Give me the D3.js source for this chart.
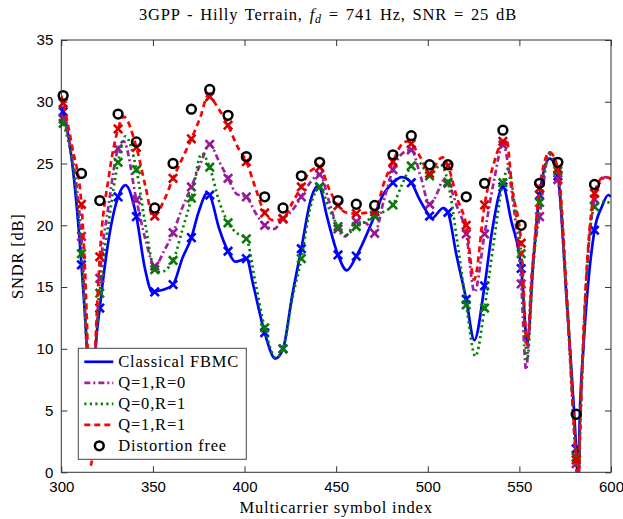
<!DOCTYPE html>
<meta charset="utf-8">
<style>
  body { margin: 0; background: white; }
  svg { background-color: white; font-family: "Liberation Serif", serif; }
  .axis text { font-size: 15px; fill: black; }
  .axis line { stroke: #333; }
  .axis path { display: none; }
  .lbl { letter-spacing: 0.8px; }
</style>
<div id="chart"></div>
<script src="https://d3js.org/d3.v7.min.js"></script>
<script>
// marker positions (symbol index) and the values read at them
var markerX = [301, 311, 321, 331, 341, 351, 361, 371, 381, 391, 401, 411, 421, 431, 441,
               451, 461, 471, 481, 491, 501, 511, 521, 531, 541, 551, 561, 571, 581, 591];

var freeMarks  = [30.5, 24.2, 22.0, 29.0, 26.75, 21.4, 25.0, 29.4, 31.0, 28.9, 25.55, 22.3, 21.4, 24.0, 25.1,
                  22.0, 21.7, 21.6, 25.7, 27.25, 24.9, 24.9, 22.3, 23.4, 27.7, 20.0, 23.4, 25.1, 4.7, 23.3];
var fbmcMarks  = [29.2, 16.8, 13.3, 22.3, 20.7, 14.6, 15.2, 19.0, 22.45, 17.9, 17.3, 11.3, 10.0, 18.1, 23.1,
                  17.6, 17.5, 20.8, 23.45, 23.45, 20.75, 21.05, 14.0, 15.1, 23.1, 16.5, 22.45, 24.0, 1.9, 19.6];
var q1r0Marks  = [28.6, 19.1, 15.7, 26.2, 22.05, 16.7, 19.4, 23.1, 26.55, 23.8, 22.3, 20.0, 20.5, 22.3, 24.1,
                  19.7, 20.3, 19.35, 24.5, 26.1, 21.7, 23.4, 19.3, 19.3, 26.5, 15.25, 20.7, 23.7, 0.7, 22.1];
var q0r1Marks  = [28.25, 17.7, 14.5, 25.1, 24.5, 16.4, 17.15, 22.2, 24.7, 20.2, 18.9, 11.7, 10.0, 17.3, 23.1,
                  19.9, 19.9, 20.75, 21.65, 24.8, 24.0, 23.5, 13.55, 13.3, 23.45, 17.7, 21.85, 24.4, 1.2, 21.5];
var q1r1Marks  = [29.9, 21.7, 17.45, 27.8, 26.3, 20.75, 23.8, 27.0, 30.4, 28.1, 25.15, 21.0, 20.55, 23.1, 24.7,
                  21.6, 20.95, 21.1, 25.15, 26.6, 24.2, 24.8, 20.0, 21.65, 26.8, 18.55, 23.0, 24.6, 1.0, 22.6];

// extra curve points between the markers [symbol, dB]
var fbmcExtra = [[300,29.6],[313.9,10.2],[316.3,2],[318.8,10.2],[326,19.0],[335,23.25],[345.5,16.6],[350,14.5],
  [356,14.8],[366,17.3],[375,21.1],[379.7,22.6],[386,19.8],[395,17.05],[405,15.0],[416.8,9.2],[426,14.3],
  [436,22.0],[440,23.2],[445,20.7],[455.8,16.35],[475,22.3],[485.8,23.9],[495.5,22.1],[502,20.55],[508.5,21.4],
  [515.5,17.7],[525.4,10.7],[535.5,19.9],[545.5,20.4],[554.4,10.45],[557.5,16.9],[566.6,25.4],[575.7,14.2],
  [582,-1],[583,4.8],[585,10.2],[595,21.5],[598.5,22.45],[600,22.3]];
var q1r0Extra = [[300,29.0],[313.8,10.2],[316.3,2.5],[318.8,10.2],[326,21.8],[334,26.8],[346,18.8],[356,17.9],
  [366,21.4],[376,25.0],[386,25.2],[396,22.5],[406,21.0],[416,19.7],[426,21.2],[436,23.5],[446,22.0],[455,19.1],
  [466,20.2],[476,22.0],[486,25.8],[496,24.0],[506,22.9],[508,23.6],[516,21.5],[525.5,14.6],[536,23.5],[546,22.5],
  [553.7,8.3],[556.5,15.6],[566.5,25.9],[576,13.5],[582,-1],[583.5,5],[585.5,12.5],[597,23.9],[600,23.7]];
var q0r1Extra = [[300,28.6],[313.8,10.2],[316.3,2],[318.8,10.2],[326,20.4],[335,27.2],[345.5,20.4],[354,16.2],
  [366,19.6],[376.6,25.8],[386,22.0],[396,19.35],[406,15.3],[417,9.3],[426,14.0],[436,21.5],[446,21.4],[455,19.2],
  [466,20.3],[476,21.1],[486,23.3],[495,25.1],[507,24.9],[516,18.8],[526,9.4],[536,18.6],[544,24.6],[548,21.0],
  [554.3,9.1],[557,15.5],[566.5,25.7],[576,13.8],[582,-1],[583.5,5],[585.5,12.5],[596,21.9],[600,21.8]];
var q1r1Extra = [[300,30.5],[306,26.3],[313.8,13],[316.3,0.6],[318.8,11],[326,24.0],[334,28.8],[346,23.1],[350,20.7],
  [356,22.0],[366,25.4],[376,28.8],[380,30.5],[386,29.4],[396,26.4],[406,23.0],[416,20.4],[426,21.8],[436,24.4],
  [446,23.0],[456,21.0],[466,21.0],[476,23.4],[486,26.6],[489,26.8],[496,25.5],[506,25.3],[508,25.5],[516,22.2],
  [525.3,15.6],[536,25.0],[543,26.9],[546,23.0],[554.3,10.3],[557,16],[566.5,25.9],[576,14],[582,-1],[583.5,5.5],
  [585.5,12.9],[596,23.9],[600,23.8]];

var xTicks = [300, 350, 400, 450, 500, 550, 600];
var yTicks = [0, 5, 10, 15, 20, 25, 30, 35];

var series = [
  {name: "Classical FBMC", marks: fbmcMarks, extra: fbmcExtra, color: "#0000ff", mcolor: "#0000ff", dash: null},
  {name: "Q=1,R=0", marks: q1r0Marks, extra: q1r0Extra, color: "#a020a0", mcolor: "#961896", dash: "6,3,2,3"},
  {name: "Q=0,R=1", marks: q0r1Marks, extra: q0r1Extra, color: "#008000", mcolor: "#0a780a", dash: "2.2,3.3"},
  {name: "Q=1,R=1", marks: q1r1Marks, extra: q1r1Extra, color: "#ff0000", mcolor: "#d40000", dash: "6,4"}
];

var W = 623, H = 519;
var margin = {top: 40, right: 12, bottom: 46.7, left: 61.3};
var width = W - margin.left - margin.right,
    height = H - margin.top - margin.bottom;

var svg = d3.select("#chart").append("svg")
    .attr("width", W).attr("height", H);

var g = svg.append("g")
    .attr("transform", "translate(" + margin.left + "," + margin.top + ")");

var x = d3.scaleLinear().domain([300, 600]).range([0, width]);
var y = d3.scaleLinear().domain([0, 35]).range([height, 0]);

g.append("clipPath").attr("id", "clip")
  .append("rect").attr("width", width).attr("height", height);

// axes, ticks pointing inwards on all four sides
g.append("g").attr("class", "axis")
  .attr("transform", "translate(0," + height + ")")
  .call(d3.axisBottom(x).tickValues(xTicks).tickSizeInner(-6).tickSizeOuter(0).tickPadding(9.5));
g.append("g").attr("class", "axis")
  .call(d3.axisTop(x).tickValues(xTicks).tickSizeInner(-6).tickSizeOuter(0).tickFormat(""));
g.append("g").attr("class", "axis")
  .call(d3.axisLeft(y).tickValues(yTicks).tickSizeInner(-6).tickSizeOuter(0).tickPadding(8));
g.append("g").attr("class", "axis")
  .attr("transform", "translate(" + width + ",0)")
  .call(d3.axisRight(y).tickValues(yTicks).tickSizeInner(-6).tickSizeOuter(0).tickFormat(""));

var line = d3.line()
    .x(function(d) { return x(d[0]); })
    .y(function(d) { return y(d[1]); })
    .curve(d3.curveMonotoneX);

function crossPath(s) {
  return "M" + (-s) + "," + (-s) + "L" + s + "," + s + "M" + (-s) + "," + s + "L" + s + "," + (-s);
}

series.forEach(function(s) {
  var pts = markerX.map(function(v, i) { return [v, s.marks[i]]; })
      .concat(s.extra)
      .sort(function(a, b) { return a[0] - b[0]; });

  g.append("path")
    .datum(pts)
    .attr("clip-path", "url(#clip)")
    .attr("fill", "none")
    .attr("stroke", s.color)
    .attr("stroke-width", 2.7)
    .attr("stroke-dasharray", s.dash)
    .attr("d", line);

  g.selectAll(null)
    .data(s.marks)
    .enter().append("path")
    .attr("transform", function(d, i) { return "translate(" + x(markerX[i]) + "," + y(d) + ")"; })
    .attr("d", crossPath(4.2))
    .attr("fill", "none")
    .attr("stroke", s.mcolor)
    .attr("stroke-width", 2.6);
});

g.selectAll(".free")
  .data(freeMarks)
  .enter().append("circle")
  .attr("class", "free")
  .attr("cx", function(d, i) { return x(markerX[i]); })
  .attr("cy", function(d) { return y(d); })
  .attr("r", 4.4)
  .attr("fill", "none")
  .attr("stroke", "black")
  .attr("stroke-width", 2.5);

// frame
g.append("rect")
  .attr("width", width).attr("height", height)
  .attr("fill", "none").attr("stroke", "#333").attr("stroke-width", 1);

// legend
var lg = svg.append("g").attr("transform", "translate(78.3,348.3)");
lg.append("rect")
  .attr("width", 168).attr("height", 111)
  .attr("fill", "white").attr("stroke", "#444").attr("stroke-width", 1);

var legendItems = series.map(function(s) { return s; })
  .concat([{name: "Distortion free", circle: true}]);

legendItems.forEach(function(s, i) {
  var ly = 13.5 + i * 21;
  if (s.circle) {
    lg.append("circle").attr("cx", 21).attr("cy", ly).attr("r", 4.4)
      .attr("fill", "none").attr("stroke", "black").attr("stroke-width", 2.5);
  } else {
    lg.append("line")
      .attr("x1", 6).attr("x2", 35).attr("y1", ly).attr("y2", ly)
      .attr("stroke", s.color).attr("stroke-width", 2.7)
      .attr("stroke-dasharray", s.dash);
  }
  lg.append("text")
    .attr("class", "lbl")
    .attr("x", 40).attr("y", ly + 5.5)
    .style("font-size", "16.5px")
    .text(s.name);
});

// title and axis labels
var title = svg.append("text")
  .attr("class", "lbl")
  .attr("x", 328).attr("y", 20)
  .attr("text-anchor", "middle")
  .style("font-size", "16.5px")
  .style("word-spacing", "2px");
title.append("tspan").text("3GPP - Hilly Terrain, ");
title.append("tspan").style("font-style", "italic").text("f");
title.append("tspan").style("font-style", "italic").style("font-size", "12px").attr("dy", 3).text("d");
title.append("tspan").attr("dy", -3).text(" = 741 Hz, SNR = 25 dB");

svg.append("text")
  .attr("class", "lbl")
  .attr("x", margin.left + width / 2).attr("y", 513)
  .attr("text-anchor", "middle")
  .style("font-size", "16.5px")
  .text("Multicarrier symbol index");

svg.append("text")
  .attr("class", "lbl")
  .attr("transform", "translate(23," + (margin.top + height / 2) + ") rotate(-90)")
  .attr("text-anchor", "middle")
  .style("font-size", "16.5px")
  .text("SNDR [dB]");
</script>
